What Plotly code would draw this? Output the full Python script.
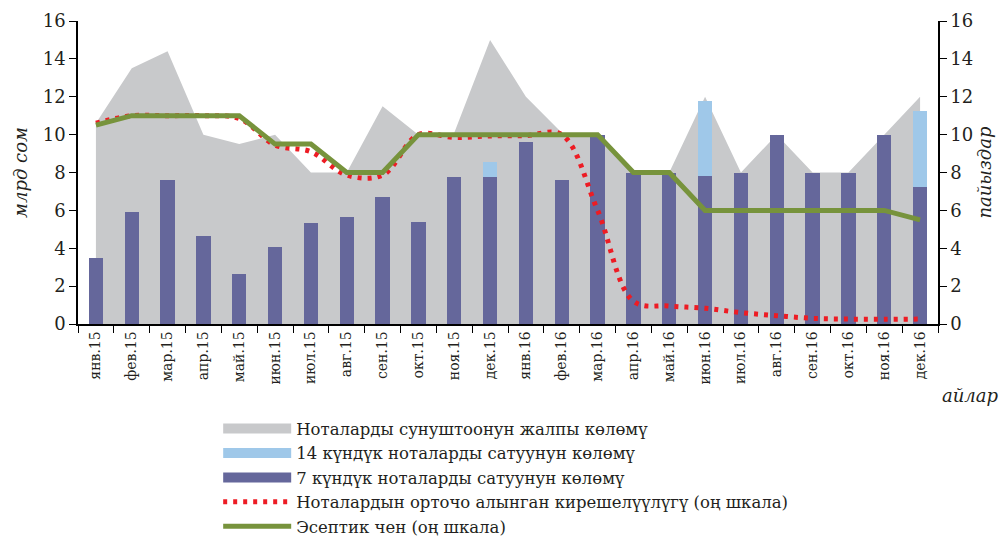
import plotly.graph_objects as go

months = ["янв.15", "фев.15", "мар.15", "апр.15", "май.15", "июн.15", "июл.15", "авг.15",
          "сен.15", "окт.15", "ноя.15", "дек.15", "янв.16", "фев.16", "мар.16", "апр.16",
          "май.16", "июн.16", "июл.16", "авг.16", "сен.16", "окт.16", "ноя.16", "дек.16"]

total_offer = [10.6, 13.5, 14.4, 10.0, 9.5, 10.0, 8.0, 8.0, 11.5, 10.0, 10.1, 15.0,
               12.0, 10.1, 10.0, 8.0, 8.0, 12.0, 8.0, 10.0, 8.0, 8.0, 10.0, 12.0]
sales_7d = [3.47, 5.93, 7.6, 4.66, 2.64, 4.06, 5.33, 5.66, 6.69, 5.4, 7.77, 7.77,
            9.62, 7.6, 10.0, 7.95, 7.95, 7.8, 8.0, 10.0, 8.0, 8.0, 10.0, 7.25]
sales_14d = [0, 0, 0, 0, 0, 0, 0, 0, 0, 0, 0, 0.76,
             0, 0, 0, 0, 0, 3.95, 0, 0, 0, 0, 0, 4.0]
avg_yield = [10.6, 11.0, 11.0, 11.0, 10.85, 9.45, 9.1, 7.86, 7.86, 10.0, 9.85, 9.93,
             9.95, 10.0, 6.0, 1.2, 0.95, 0.83, 0.6, 0.44, 0.3, 0.26, 0.25, 0.26]
policy_rate = [10.5, 11, 11, 11, 11, 9.5, 9.5, 8, 8, 10, 10, 10,
               10, 10, 10, 8, 8, 6, 6, 6, 6, 6, 6, 5.5]

names = ["Ноталарды сунуштоонун жалпы көлөмү",
         "14 күндүк ноталарды сатуунун көлөмү",
         "7 күндүк ноталарды сатуунун көлөмү",
         "Ноталардын орточо алынган кирешелүүлүгү (оң шкала)",
         "Эсептик чен (оң шкала)"]

GRAY = "#c8c9cb"
LIGHT = "#9fc8e9"
DARK = "#65679b"
RED = "#ed1c24"
GREEN = "#77933c"
TXT = "#231f20"
FONT = "DejaVu Serif"

fig = go.Figure()

# area (main subplot, lowest layer)
fig.add_trace(go.Scatter(x=months, y=total_offer, mode="none", fill="tozeroy",
                         fillcolor=GRAY, showlegend=False, hoverinfo="skip",
                         xaxis="x", yaxis="y"))
# stacked bars (overlay subplot)
fig.add_trace(go.Bar(x=months, y=sales_7d, marker=dict(color=DARK, line=dict(width=0)),
                     width=0.4, showlegend=False, xaxis="x", yaxis="y2"))
fig.add_trace(go.Bar(x=months, y=sales_14d, marker=dict(color=LIGHT, line=dict(width=0)),
                     width=0.4, showlegend=False, xaxis="x", yaxis="y2"))
# lines on right axis
fig.add_trace(go.Scatter(x=months, y=avg_yield, mode="lines",
                         line=dict(color=RED, width=5, dash="4px,6px", shape="spline", smoothing=1),
                         showlegend=False, xaxis="x", yaxis="y3"))
fig.add_trace(go.Scatter(x=months, y=policy_rate, mode="lines",
                         line=dict(color=GREEN, width=5),
                         showlegend=False, xaxis="x", yaxis="y3"))

# legend entries
leg_styles = [dict(color=GRAY, width=11), dict(color=LIGHT, width=11), dict(color=DARK, width=11),
              dict(color=RED, width=5, dash="4px,6px"), dict(color=GREEN, width=5)]
for nm, st in zip(names, leg_styles):
    fig.add_trace(go.Scatter(x=[None], y=[None], mode="lines", line=st, name=nm,
                             xaxis="x", yaxis="y"))

axis_common = dict(range=[0, 16], tickvals=list(range(0, 17, 2)), showgrid=False, zeroline=False,
                   showline=True, linecolor="black", linewidth=1.5, ticks="outside",
                   ticklen=7, tickcolor="black", automargin=False,
                   tickfont=dict(family=FONT, size=18, color=TXT))

fig.update_layout(
    width=1000, height=528,
    margin=dict(l=70, r=70, t=13, b=212, autoexpand=False),
    paper_bgcolor="white", plot_bgcolor="white",
    barmode="stack",
    font=dict(family=FONT, color=TXT),
    xaxis=dict(type="category", tickangle=-90, tickson="boundaries", ticks="outside",
               ticklen=7, tickcolor="black", showline=True, linecolor="black", linewidth=1.5,
               showgrid=False, automargin=False, tickfont=dict(family=FONT, size=14, color=TXT)),
    yaxis=dict(**axis_common,
               title=dict(text="<i>млрд сом</i>", font=dict(family=FONT, size=18, color=TXT), standoff=10)),
    yaxis2=dict(range=[0, 16], overlaying="y", visible=False),
    yaxis3=dict(**axis_common, overlaying="y", side="right",
                title=dict(text="<i>пайыздар</i>", font=dict(family=FONT, size=18, color=TXT), standoff=6)),
    legend=dict(x=0.163, y=-0.288, xanchor="left", yanchor="top", itemwidth=68,
                traceorder="normal",
                font=dict(family=FONT, size=16.5, color=TXT), tracegroupgap=0,
                bgcolor="rgba(0,0,0,0)"),
    annotations=[dict(text="<i>айлар</i>", x=(993 - 70) / 860, y=(316 - 387) / 303,
                      xref="paper", yref="paper", xanchor="right", yanchor="middle",
                      showarrow=False, font=dict(family=FONT, size=18, color=TXT))],
)

fig.write_html("out.html")
